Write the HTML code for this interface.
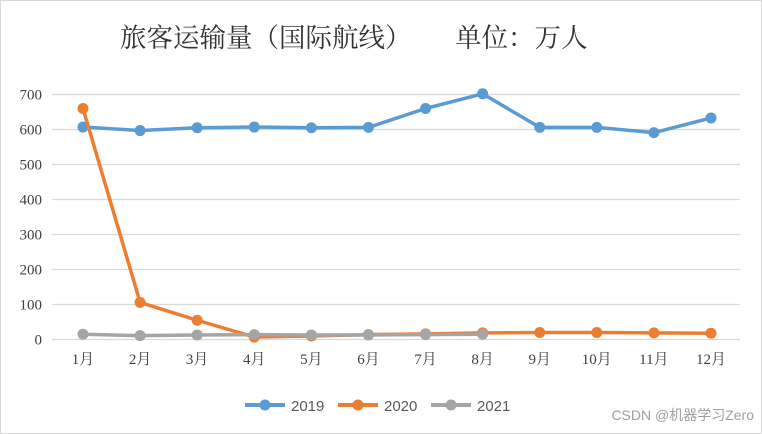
<!DOCTYPE html>
<html><head><meta charset="utf-8"><style>
body{margin:0;background:#fff}
svg{display:block;font-family:"Liberation Serif","Noto Serif CJK SC",serif}
</style></head><body>
<svg width="762" height="434">
<rect x="0.5" y="0.5" width="761" height="433" fill="#fff" stroke="#d9d9d9"/>
<g font-size="26.5" fill="#333" font-family="Noto Serif CJK SC, serif">
<text x="120" y="47">旅客运输量（国际航线）</text>
<text x="455" y="47">单位：万人</text>
</g>
<g id="grid"></g><g id="series"></g>
<g font-family="Liberation Sans, sans-serif" font-size="15" fill="#595959">
<line x1="245" y1="405" x2="285" y2="405" stroke="#5b9bd5" stroke-width="4"/><circle cx="265" cy="405" r="5.5" fill="#5b9bd5"/><text x="291" y="411">2019</text>
<line x1="338" y1="405" x2="378" y2="405" stroke="#ed7d31" stroke-width="4"/><circle cx="358" cy="405" r="5.5" fill="#ed7d31"/><text x="384" y="411">2020</text>
<line x1="431" y1="405" x2="471" y2="405" stroke="#a5a5a5" stroke-width="4"/><circle cx="451" cy="405" r="5.5" fill="#a5a5a5"/><text x="477" y="411">2021</text>
</g>
<text x="754" y="420" font-size="14" text-anchor="end" fill="#a0a0a0" font-family="Liberation Sans, Noto Sans CJK SC, sans-serif">CSDN @机器学习Zero</text>
</svg>
<script>
const categories=["1月","2月","3月","4月","5月","6月","7月","8月","9月","10月","11月","12月"];
const yTicks=[0,100,200,300,400,500,600,700];
const s2019=[607,597,605,607,605,606,660,702,606,606,591,633];
const s2020=[660,106,55,7,10,14,16,19,20,20,19,18];
const s2021=[15,11,13,14,13,13,14,15];
const NS="http://www.w3.org/2000/svg";
const x=i=>83+i*(711-83)/11;
const y=v=>339.5-v*0.35;
function mk(t,a,p){const e=document.createElementNS(NS,t);for(const k in a)e.setAttribute(k,a[k]);p.appendChild(e);return e;}
const g=document.getElementById('grid');
yTicks.forEach(v=>{
 const l=mk('line',{x1:52,x2:740,y1:y(v),y2:y(v),stroke:'#d9d9d9','stroke-width':1.3},g);
 
 
 const t=mk('text',{x:42,y:y(v)+5,'text-anchor':'end','font-size':15,fill:'#404040'},g);
 t.textContent=v;
 
 
});
categories.forEach((c,i)=>{
 const t=mk('text',{x:x(i),y:364,'text-anchor':'middle','font-size':15,fill:'#404040'},g);
 t.textContent=c;
 
 
});
const sg=document.getElementById('series');
function draw(d,c,n){
 const grp=mk('g',{},sg);
 
 
 const pl=mk('polyline',{points:d.map((v,i)=>x(i)+','+y(v)).join(' '),fill:'none',stroke:c,'stroke-width':3.5,'stroke-linejoin':'round'},grp);
 
 
 d.forEach((v,i)=>{
  const ci=mk('circle',{cx:x(i),cy:y(v),r:5.5,fill:c},grp);
  
  
 });
}
draw(s2019,'#5b9bd5','2019');
draw(s2020,'#ed7d31','2020');
draw(s2021,'#a5a5a5','2021');
</script>
</body></html>
